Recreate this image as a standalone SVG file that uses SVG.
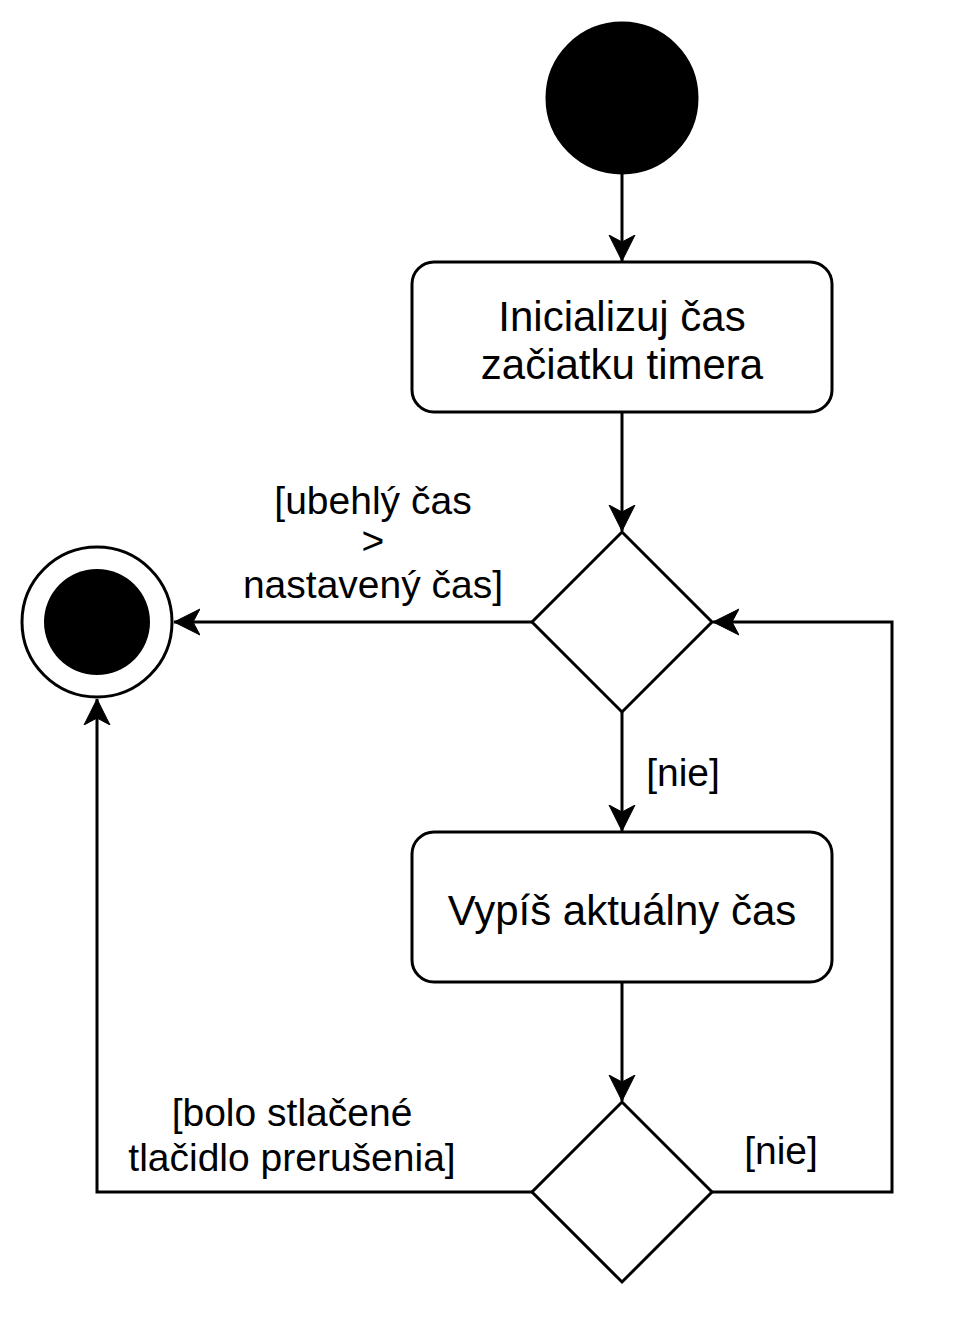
<svg xmlns="http://www.w3.org/2000/svg" width="957" height="1326" viewBox="0 0 957 1326">
<style>
.n{fill:#fff;stroke:#000;stroke-width:3}
.e{fill:none;stroke:#000;stroke-width:3}
.t{font-family:"Liberation Sans",Arial,sans-serif;font-size:42px;fill:#000;text-anchor:middle}
.l{font-family:"Liberation Sans",Arial,sans-serif;font-size:39px;fill:#000;text-anchor:middle}
</style>
<defs>
<marker id="a" viewBox="0 0 28 28" refX="26" refY="14" markerWidth="28" markerHeight="28" markerUnits="userSpaceOnUse" orient="auto">
<path d="M26 14 L0 1 L7 14 L0 27 Z" fill="#000" stroke="#000" stroke-width="1"/>
</marker>
</defs>
<rect width="957" height="1326" fill="#fff"/>
<g id="edges">
<path class="e" d="M622 174 V261" marker-end="url(#a)"/>
<path class="e" d="M622 412 V531" marker-end="url(#a)"/>
<path class="e" d="M532 622 H174" marker-end="url(#a)"/>
<path class="e" d="M622 712 V831" marker-end="url(#a)"/>
<path class="e" d="M622 982 V1101" marker-end="url(#a)"/>
<path class="e" d="M532 1192 H97 V699" marker-end="url(#a)"/>
<path class="e" d="M712 1192 H892 V622 H713" marker-end="url(#a)"/>
<text class="l" x="373" y="514">[ubehlý čas</text>
<text class="l" x="373" y="554">&gt;</text>
<text class="l" x="373" y="598">nastavený čas]</text>
<text class="l" x="683" y="786">[nie]</text>
<text class="l" x="292" y="1126">[bolo stlačené</text>
<text class="l" x="292" y="1171">tlačidlo prerušenia]</text>
<text class="l" x="781" y="1164">[nie]</text>
</g>
<g id="start"><circle cx="622" cy="98" r="75" fill="#000" stroke="#000" stroke-width="3"/></g>
<g id="init">
<rect class="n" x="412" y="262" width="420" height="150" rx="22"/>
<text class="t" x="622" y="331">Inicializuj čas</text>
<text class="t" x="622" y="379">začiatku timera</text>
</g>
<g id="d1"><path class="n" d="M622 532 L712 622 L622 712 L532 622 Z"/></g>
<g id="end">
<circle class="n" cx="97" cy="622" r="75"/>
<circle cx="97" cy="622" r="53" fill="#000"/>
</g>
<g id="print">
<rect class="n" x="412" y="832" width="420" height="150" rx="22"/>
<text class="t" x="622" y="925">Vypíš aktuálny čas</text>
</g>
<g id="d2"><path class="n" d="M622 1102 L712 1192 L622 1282 L532 1192 Z"/></g>
</svg>
